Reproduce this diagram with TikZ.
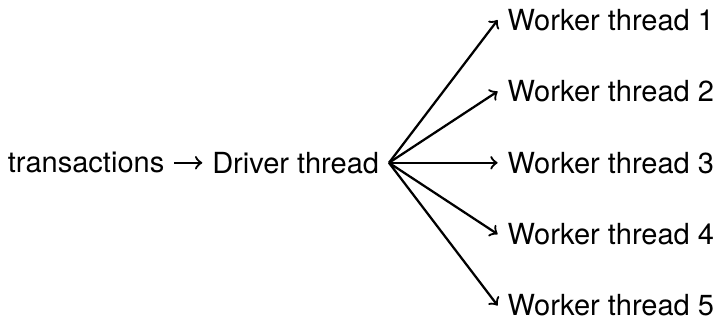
\documentclass[tikz,border=0pt]{standalone}
\usepackage{fontspec}
\setmainfont{TeX Gyre Heros}
\usetikzlibrary{positioning}
\tikzset{
  threadnode/.style={font=\fontsize{10.3}{12}\selectfont, inner sep=0.333em},
  arrow/.style={->, line width=0.8pt}
}

\begin{document}
\begin{tikzpicture}[x=1mm,y=1mm]
  \useasboundingbox (0,-0.1) rectangle (89.4,39.8);

  \node[threadnode, anchor=east] (driver) at (48.5,19.5) {Driver thread};
  \node[threadnode, left=3.5mm of driver] (input) {transactions};

  \node[threadnode, anchor=west] (worker1) at (62.05,37.3) {Worker thread 1};
  \node[threadnode, anchor=west] (worker2) at (62.05,28.4) {Worker thread 2};
  \node[threadnode, anchor=west] (worker3) at (62.05,19.5) {Worker thread 3};
  \node[threadnode, anchor=west] (worker4) at (62.05,10.6) {Worker thread 4};
  \node[threadnode, anchor=west] (worker5) at (62.05,1.7) {Worker thread 5};

  \draw[arrow] (input) -- (driver);

  \draw[arrow] (driver.east) -- (worker1.west);
  \draw[arrow] (driver.east) -- (worker2.west);
  \draw[arrow] (driver.east) -- (worker3.west);
  \draw[arrow] (driver.east) -- (worker4.west);
  \draw[arrow] (driver.east) -- (worker5.west);
\end{tikzpicture}
\end{document}
